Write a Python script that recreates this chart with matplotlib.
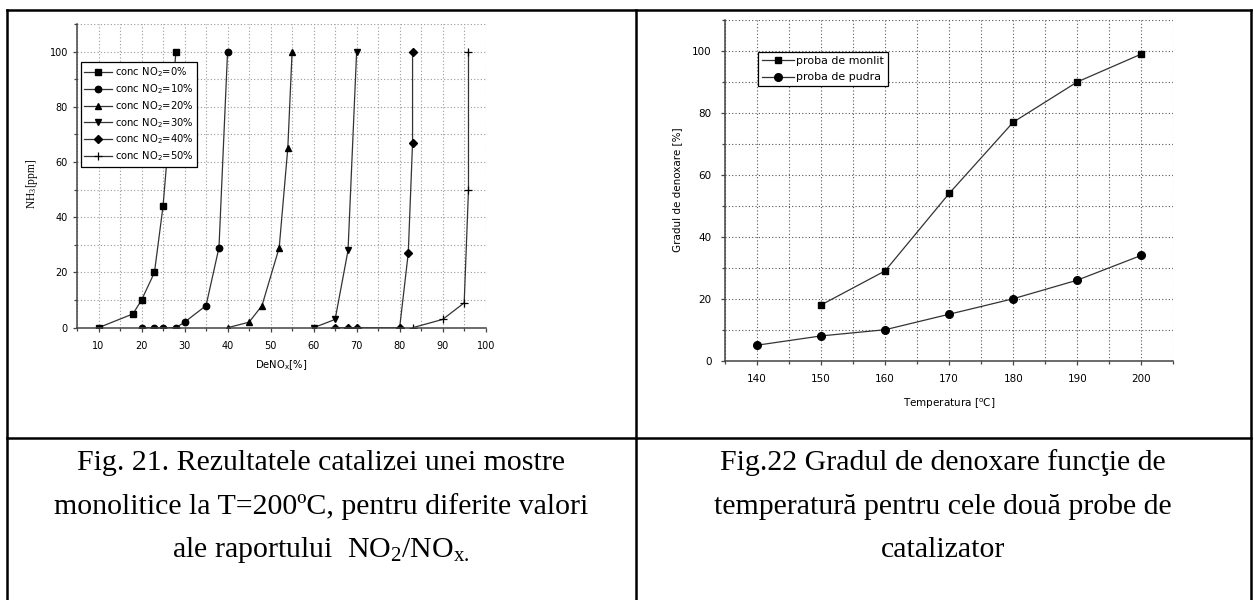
import numpy as np
import matplotlib
matplotlib.use('Agg')
from matplotlib import pyplot as plt
from matplotlib.lines import Line2D
from matplotlib.ticker import MultipleLocator

plt.rcParams['font.family'] = ['DejaVu Sans']
plt.rcParams['mathtext.default'] = 'regular'

# Fig. 21 - NH3 [ppm] vs DeNOx [%] pentru diferite concentratii NO2
labels21 = ['conc NO$_2$=0%', 'conc NO$_2$=10%', 'conc NO$_2$=20%',
            'conc NO$_2$=30%', 'conc NO$_2$=40%', 'conc NO$_2$=50%']
markers21 = ['s', 'o', '^', 'v', 'D', '+']
x0 = [10, 18, 20, 23, 25, 28]
y0 = [0, 5, 10, 20, 44, 100]
x10 = [20, 23, 25, 28, 30, 35, 38, 40]
y10 = [0, 0, 0, 0, 2, 8, 29, 100]
x20 = [40, 45, 48, 52, 54, 55]
y20 = [0, 2, 8, 29, 65, 100]
x30 = [60, 65, 68, 70]
y30 = [0, 3, 28, 100]
x40 = [65, 68, 70, 80, 82, 83, 83]
y40 = [0, 0, 0, 0, 27, 67, 100]
x50 = [83, 90, 95, 96, 96]
y50 = [0, 3, 9, 50, 100]

# Fig. 22 - gradul de denoxare vs temperatura
temp_monolit = [150, 160, 170, 180, 190, 200]
deno_monolit = [18, 29, 54, 77, 90, 99]
temp_pudra = [140, 150, 160, 170, 180, 190, 200]
deno_pudra = [5, 8, 10, 15, 20, 26, 34]

W, H = 1254, 600
fig = plt.figure(figsize=(W / 100, H / 100), dpi=100)

def px(x, y):
    return x / W, 1 - y / H

def box(l, t, r, b):
    x0_, y1_ = px(l, t)
    x1_, y0_ = px(r, b)
    return [x0_, y0_, x1_ - x0_, y1_ - y0_]

def style_axes(ax, fs, xpad, ypad, gcol):
    for s in ['top', 'right']:
        ax.spines[s].set_visible(False)
    for s in ['left', 'bottom']:
        ax.spines[s].set_color('#444444')
        ax.spines[s].set_linewidth(1.1)
    ax.tick_params(which='major', direction='out', length=3, width=0.9, color='#444444', labelsize=fs)
    ax.tick_params(which='minor', direction='out', length=2.5, width=0.9, color='#444444')
    ax.tick_params(axis='x', which='major', pad=xpad)
    ax.tick_params(axis='y', which='major', pad=ypad)
    ax.grid(which='both', color=gcol, linestyle=(0, (1, 2)), linewidth=0.8)
    ax.set_axisbelow(True)

# ---- stanga: Fig. 21
ax1 = fig.add_axes(box(77, 24, 485.7, 327.7))
series = [(x0, y0), (x10, y10), (x20, y20), (x30, y30), (x40, y40), (x50, y50)]
for (xs, ys), m, lab in zip(series, markers21, labels21):
    if m == '+':
        ax1.plot(xs, ys, color='#333333', lw=0.9, marker=m, ms=6, mew=0.9,
                 mfc='black', mec='black', label=lab)
    else:
        ax1.plot(xs, ys, color='#333333', lw=0.9, marker=m,
                 ms=4.6 if m != 'D' else 4.2, mfc='black', mec='black', label=lab)
ax1.set_xlim(5, 100)
ax1.set_ylim(0, 110)
ax1.xaxis.set_minor_locator(MultipleLocator(5))
ax1.yaxis.set_major_locator(MultipleLocator(20))
ax1.yaxis.set_minor_locator(MultipleLocator(10))
ax1.set_xticks([10, 20, 30, 40, 50, 60, 70, 80, 90, 100])
style_axes(ax1, 7, 6.3, 3.6, '#999999')
leg1 = ax1.legend(loc='upper left', bbox_to_anchor=(0.009, 0.875), fontsize=7.2,
                  frameon=True, fancybox=False, edgecolor='black', handlelength=2.8,
                  handletextpad=0.3, borderpad=0.35, labelspacing=0.3,
                  borderaxespad=0, framealpha=1)
leg1.get_frame().set_linewidth(0.9)
fx, fy = px(32, 184)
fig.text(fx, fy, 'NH$_3$[ppm]', rotation=90, ha='center', va='center',
         fontsize=8.3, family=['Liberation Serif'])
fx, fy = px(281, 365)
fig.text(fx, fy, 'DeNO$_x$[%]', ha='center', va='center', fontsize=7.2)

# ---- dreapta: Fig. 22
ax2 = fig.add_axes(box(725, 20, 1173.3, 360.7))
ax2.plot(temp_monolit, deno_monolit, color='#333333', lw=0.9, marker='s', ms=4.6,
         mfc='black', mec='black', label='proba de monlit')
ax2.plot(temp_pudra, deno_pudra, color='#333333', lw=0.9, marker='o', ms=5.5,
         mfc='black', mec='black', label='proba de pudra')
ax2.set_xlim(135, 205)
ax2.set_ylim(0, 110)
ax2.set_xticks([140, 150, 160, 170, 180, 190, 200])
ax2.xaxis.set_minor_locator(MultipleLocator(5))
ax2.yaxis.set_minor_locator(MultipleLocator(10))
ax2.set_yticks([0, 20, 40, 60, 80, 100])
style_axes(ax2, 7.5, 6.7, 6.5, '#555555')
leg2 = ax2.legend(loc='upper left', bbox_to_anchor=(0.0736, 0.906), fontsize=7.9,
                  frameon=True, fancybox=False, edgecolor='black', handlelength=2.9,
                  handletextpad=0.25, borderpad=0.35, labelspacing=0.6,
                  borderaxespad=0, framealpha=1)
leg2.get_frame().set_linewidth(0.9)
fx, fy = px(677, 190)
fig.text(fx, fy, 'Gradul de denoxare [%]', rotation=90, ha='center', va='center', fontsize=7.5)
fx, fy = px(949, 404)
fig.text(fx, fy, 'Temperatura [$^{o}$C]', ha='center', va='center', fontsize=7.5)

# ---- tabel (chenar)
lw = 1.8
for (xa, ya), (xb, yb) in [((7, 10), (1251, 10)), ((7, 10), (7, 600)),
                           ((1251, 10), (1251, 600)), ((636, 10), (636, 600)),
                           ((7, 437.5), (1251, 437.5))]:
    p1 = px(xa, ya)
    p2 = px(xb, yb)
    fig.add_artist(Line2D([p1[0], p2[0]], [p1[1], p2[1]], color='black', lw=lw,
                          transform=fig.transFigure))

caption21 = ['Fig. 21. Rezultatele catalizei unei mostre',
             'monolitice la T=200ºC, pentru diferite valori',
             'ale raportului  NO$_2$/NO$_{x.}$']
caption22 = ['Fig.22 Gradul de denoxare funcţie de',
             'temperatură pentru cele două probe de',
             'catalizator']
line_y = [463, 507, 550]
for cap, cx in [(caption21, 321), (caption22, 943)]:
    for txt, ly in zip(cap, line_y):
        fx, fy = px(cx, ly)
        fig.text(fx, fy, txt, ha='center', va='center', fontsize=21.5,
                 family=['Liberation Serif', 'DejaVu Serif'])

fig.savefig('out.png', dpi=100)
